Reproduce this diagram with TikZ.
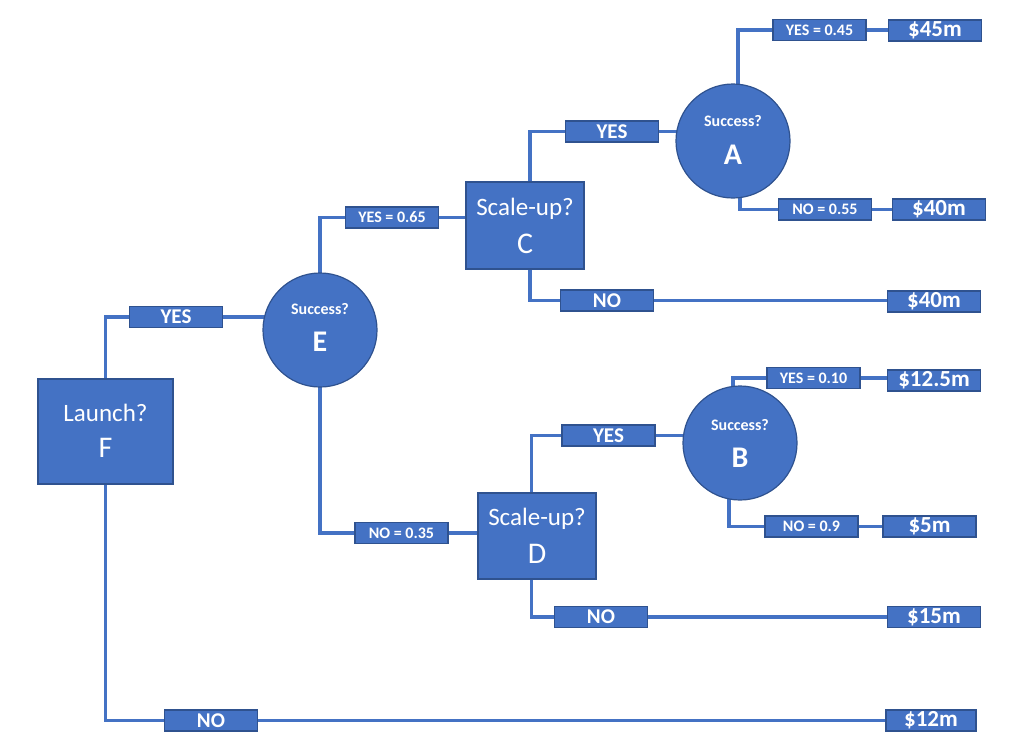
\documentclass[tikz,border=0pt]{standalone}
\usepackage{fontspec}
\setmainfont{Carlito}
\usetikzlibrary{backgrounds,calc}
\definecolor{nodeblue}{HTML}{4472C4}
\definecolor{edgeblue}{HTML}{2F528F}
\definecolor{lineblue}{HTML}{4472C4}
\begin{document}
\begin{tikzpicture}[x=1pt,y=-1pt,
 tag/.style={draw=edgeblue, line width=1.2pt, fill=nodeblue, text=white, font=\bfseries\fontsize{16}{16}\selectfont, minimum width=93pt, minimum height=21pt, inner sep=0pt},
 bigtag/.style={tag, font=\bfseries\fontsize{21}{21}\selectfont},
 valtag/.style={tag, font=\bfseries\fontsize{23}{23}\selectfont},
 decision/.style={draw=edgeblue, line width=1.2pt, fill=nodeblue, inner sep=0pt},
 chance/.style={circle, draw=edgeblue, line width=1.2pt, fill=nodeblue, minimum size=114pt, inner sep=0pt},
 boxtxt/.style={text=white, font=\fontsize{25}{25}\selectfont, inner sep=0pt, text depth=0pt},
 boxletter/.style={text=white, font=\fontsize{30}{30}\selectfont, inner sep=0pt},
 ctxt/.style={text=white, font=\bfseries\fontsize{16}{16}\selectfont, inner sep=0pt},
 cletter/.style={text=white, font=\bfseries\fontsize{30}{30}\selectfont, inner sep=0pt},
 link/.style={draw=lineblue, line width=3.2pt}]
\useasboundingbox (0,0) rectangle (1024,747);

% decision boxes
\node[decision, minimum width=135pt, minimum height=105pt] (F) at (105.5,431.5) {};
\node[decision, minimum width=118pt, minimum height=87pt] (C) at (525,225.5) {};
\node[decision, minimum width=118pt, minimum height=86pt] (D) at (537,536) {};
% chance circles
\node[chance] (E) at (320,330) {};
\node[chance] (A) at (733,141) {};
\node[chance] (B) at (740,443) {};

% texts in shapes
\node[boxtxt] (Ft) at (105.5,413) {Launch?};
\node[boxletter] (Fl) at (105.5,448) {F};
\node[boxtxt] (Ct) at (525,207) {Scale-up?};
\node[boxletter] (Cl) at (525,244) {C};
\node[boxtxt] (Dt) at (537,517) {Scale-up?};
\node[boxletter] (Dl) at (537,554) {D};
\node[ctxt] (Et) at (320,309) {Success?};
\node[cletter] (El) at (320,342) {E};
\node[ctxt] (At) at (733,121) {Success?};
\node[cletter] (Al) at (733,155) {A};
\node[ctxt] (Bt) at (740,425) {Success?};
\node[cletter] (Bl) at (740,458) {B};

% branch labels
\node[bigtag] (yesF) at (176,317) {YES};
\node[bigtag] (noF) at (211,720.5) {NO};
\node[tag] (yes65) at (392,217.5) {YES = 0.65};
\node[tag] (no35) at (401.5,533) {NO = 0.35};
\node[bigtag] (yesC) at (612,131.5) {YES};
\node[bigtag] (noC) at (607,300.5) {NO};
\node[bigtag] (yesD) at (608.5,435.5) {YES};
\node[bigtag] (noD) at (601,617) {NO};
\node[tag] (yes45) at (819.5,30) {YES = 0.45};
\node[tag] (no55) at (825,209.5) {NO = 0.55};
\node[tag] (yes10) at (813.5,378) {YES = 0.10};
\node[tag] (no9) at (811.5,526.5) {NO = 0.9};

% values
\node[valtag] (v45) at (935,30.5) {\$45m};
\node[valtag] (v40a) at (939,209.5) {\$40m};
\node[valtag] (v40b) at (934,301.5) {\$40m};
\node[valtag] (v125) at (934,380.5) {\$12.5m};
\node[valtag] (v5) at (929.5,526.5) {\$5m};
\node[valtag] (v15) at (934,617) {\$15m};
\node[valtag, minimum width=90pt] (v12) at (931,720.5) {\$12m};

\begin{pgfonlayer}{background}
\draw[link] (F.center) |- (yesF.center) -- (yesF.center -| E.center);
\draw[link] (F.center) |- (noF.center) -- (noF.center -| v12.center);
\draw[link] (E.center) |- (yes65.center) -- (yes65.center -| C.center);
\draw[link] (E.center) |- (no35.center) -- (no35.center -| D.center);
\draw[link] ([xshift=5pt]C.center) |- (yesC.center) -- (yesC.center -| A.center);
\draw[link] ([xshift=5pt]C.center) |- (noC.center) -- (noC.center -| v40b.center);
\draw[link] ([xshift=-5.5pt]D.center) |- (yesD.center) -- (yesD.center -| B.center);
\draw[link] ([xshift=-5.5pt]D.center) |- (noD.center) -- (noD.center -| v15.center);
\draw[link] ([xshift=5pt]A.center) |- (yes45.center) -- (yes45.center -| v45.center);
\draw[link] ([xshift=7pt]A.center) |- (no55.center) -- (no55.center -| v40a.center);
\draw[link] ([xshift=-7pt]B.center) |- (yes10.center) -- (yes10.center -| v125.center);
\draw[link] ([xshift=-11pt]B.center) |- (no9.center) -- (no9.center -| v5.center);
\end{pgfonlayer}
\end{tikzpicture}
\end{document}
